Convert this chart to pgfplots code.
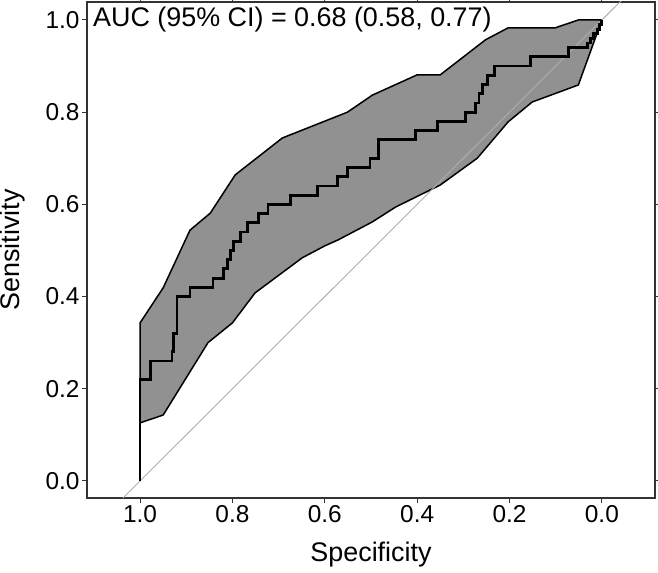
\documentclass[border=0pt]{standalone}
\usepackage{pgfplots}
\pgfplotsset{compat=1.18}
\usepackage{fontspec}
\setmainfont{Liberation Sans}
\definecolor{bandgray}{RGB}{145,145,145}
\definecolor{diaggray}{RGB}{175,175,175}
\begin{document}
\begin{tikzpicture}
\begin{axis}[
  scale only axis, width=568bp, height=496bp,
  x dir=reverse,
  xmin=-0.115, xmax=1.115, ymin=-0.037, ymax=1.039,
  xtick={0,0.2,0.4,0.6,0.8,1}, ytick={0,0.2,0.4,0.6,0.8,1},
  /pgf/number format/assume math mode=true,
  /pgf/number format/fixed, /pgf/number format/fixed zerofill, /pgf/number format/precision=1,
  tick align=outside, major tick length=5bp,
  tick style={black!80, line width=1bp},
  axis line style={black!80, line width=1.2bp},
  tick label style={font=\fontsize{24.5}{28}\selectfont},
  xticklabel style={yshift=1bp},
  yticklabel style={xshift=1bp},
  label style={font=\fontsize{27}{32}\selectfont},
  xlabel={Specificity}, ylabel={Sensitivity},
  xlabel style={at={([yshift=-57bp]axis description cs:0.5,0)}, anchor=center},
  ylabel style={at={([xshift=-74bp]axis description cs:0,0.5)}, anchor=center},
]
% confidence band
\addplot[fill=bandgray, draw=black, line width=1.5bp, line join=round] coordinates {
 (1.0,0.343) (0.95,0.419) (0.892,0.544) (0.848,0.581) (0.794,0.664) (0.692,0.744)
 (0.551,0.80) (0.497,0.837) (0.40,0.881) (0.35,0.881) (0.252,0.957) (0.203,0.983)
 (0.101,0.983) (0.051,1.0) (0.0,1.0)
 (0.051,0.859) (0.151,0.822) (0.203,0.779) (0.27,0.70) (0.35,0.642) (0.447,0.594)
 (0.497,0.562) (0.571,0.523) (0.60,0.51) (0.649,0.484) (0.751,0.408) (0.80,0.343)
 (0.853,0.30) (0.95,0.143) (1.0,0.126)
} -- cycle;
% chance diagonal
\addplot[color=diaggray, line width=0.9bp] coordinates {(1.2,-0.2) (-0.2,1.2)};
% ROC curve
\addplot[black, line width=2.8bp, line join=miter] coordinates {
 (1.0,0.0) (1.0,0.22) (0.978,0.22) (0.978,0.26) (0.931,0.26) (0.931,0.28)
 (0.928,0.28) (0.928,0.32) (0.920,0.32) (0.920,0.40) (0.892,0.40) (0.892,0.42)
 (0.842,0.42) (0.842,0.44) (0.820,0.44) (0.820,0.46) (0.811,0.46) (0.811,0.48)
 (0.805,0.48) (0.805,0.50) (0.798,0.50) (0.798,0.52) (0.783,0.52) (0.783,0.54)
 (0.768,0.54) (0.768,0.56) (0.744,0.56) (0.744,0.58) (0.723,0.58) (0.723,0.60)
 (0.675,0.60) (0.675,0.62) (0.616,0.62) (0.616,0.64) (0.573,0.64) (0.573,0.66)
 (0.551,0.66) (0.551,0.68) (0.502,0.68) (0.502,0.70) (0.484,0.70) (0.484,0.72)
 (0.484,0.74) (0.404,0.74) (0.404,0.76) (0.356,0.76) (0.356,0.78) (0.296,0.78)
 (0.296,0.80) (0.274,0.80) (0.274,0.82) (0.266,0.82) (0.266,0.84) (0.258,0.84)
 (0.258,0.86) (0.248,0.86) (0.248,0.88) (0.232,0.88) (0.232,0.90) (0.155,0.90)
 (0.155,0.92) (0.073,0.92) (0.073,0.94) (0.031,0.94) (0.031,0.95) (0.025,0.95)
 (0.025,0.96) (0.018,0.96) (0.018,0.97) (0.010,0.97) (0.010,0.98) (0.005,0.98)
 (0.005,0.99) (0.0,0.99) (0.0,1.0)
};
\node[anchor=base west, inner sep=0pt, font=\fontsize{27}{32}\selectfont]
  at ([xshift=6bp,yshift=-25bp]axis description cs:0,1) {AUC (95\% CI) = 0.68 (0.58, 0.77)};
\end{axis}
\pgfresetboundingbox
\path (-87bp,-75bp) rectangle (571bp,498bp);
\end{tikzpicture}
\end{document}
